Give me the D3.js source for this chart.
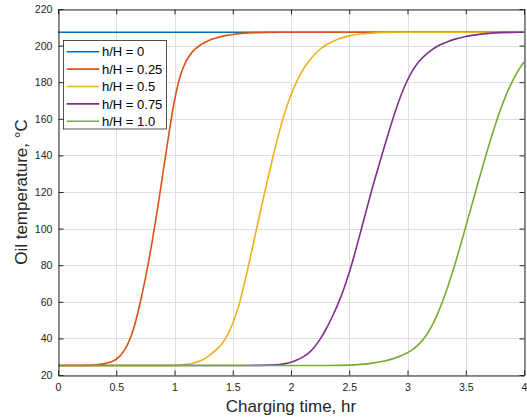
<!DOCTYPE html>
<html>
<head>
<meta charset="utf-8">
<script src="https://cdn.jsdelivr.net/npm/d3@7"></script>
<style>
  html, body { margin: 0; padding: 0; background: #fff; }
  svg { display: block; font-family: "Liberation Sans", Arial, Helvetica, sans-serif; }
</style>
</head>
<body>
<svg id="chart" width="527" height="418"></svg>
<script>
// ---- data ----
const seriesNames = ["h/H = 0", "h/H = 0.25", "h/H = 0.5", "h/H = 0.75", "h/H = 1.0"];
const seriesColors = ["#0072BD", "#D95319", "#EDB120", "#7E2F8E", "#77AC30"];

const timeH0 = [0, 4];
const tempH0 = [207.3, 207.3];

const timeH025 = [0, 0.2, 0.3, 0.35, 0.4, 0.45, 0.5, 0.55, 0.6, 0.65, 0.7, 0.75, 0.8, 0.85, 0.9, 0.95, 1.0, 1.05, 1.1, 1.15, 1.2, 1.25, 1.3, 1.35, 1.4, 1.45, 1.5, 1.6, 1.7, 1.8, 2.0, 4];
const tempH025 = [25.2, 25.2, 25.4, 25.7, 26.2, 27.1, 28.6, 31.8, 37, 45.5, 58, 72.8, 89.8, 109, 130, 151, 170, 183.5, 191.5, 196.3, 199.3, 201.4, 202.9, 204, 204.9, 205.6, 206.1, 206.8, 207.1, 207.25, 207.3, 207.3];

const timeH05 = [0, 0.9, 1.0, 1.05, 1.1, 1.15, 1.2, 1.25, 1.3, 1.35, 1.4, 1.45, 1.5, 1.55, 1.6, 1.65, 1.7, 1.75, 1.8, 1.85, 1.9, 1.95, 2.0, 2.05, 2.1, 2.15, 2.2, 2.25, 2.3, 2.35, 2.4, 2.45, 2.5, 2.6, 2.7, 2.8, 3.0, 4];
const tempH05 = [25.2, 25.2, 25.3, 25.5, 25.8, 26.3, 27.2, 28.6, 30.8, 33.3, 36.5, 41.2, 48.3, 57.5, 70, 84, 98.5, 113, 127, 140.5, 153, 164, 173, 180.5, 186.5, 191.2, 195, 198, 200.3, 202, 203.4, 204.5, 205.3, 206.3, 206.9, 207.2, 207.3, 207.3];

const timeH075 = [0, 1.6, 1.8, 1.9, 1.95, 2.0, 2.05, 2.1, 2.15, 2.2, 2.25, 2.3, 2.35, 2.4, 2.45, 2.5, 2.55, 2.6, 2.65, 2.7, 2.75, 2.8, 2.85, 2.9, 2.95, 3.0, 3.05, 3.1, 3.15, 3.2, 3.25, 3.3, 3.35, 3.4, 3.5, 3.6, 3.7, 3.8, 3.9, 4];
const tempH075 = [25.2, 25.2, 25.4, 25.7, 26.2, 27.0, 28.2, 29.8, 32, 35.2, 39.6, 45, 51.3, 58.3, 66.5, 76, 87, 98.8, 110.8, 122.6, 133.6, 144.4, 155, 165, 173.8, 181.2, 187, 191.4, 194.7, 197.3, 199.4, 201, 202.3, 203.4, 205, 206, 206.7, 207.1, 207.25, 207.3];

const timeH1 = [0, 2.3, 2.5, 2.6, 2.7, 2.8, 2.85, 2.9, 2.95, 3.0, 3.05, 3.1, 3.15, 3.2, 3.25, 3.3, 3.35, 3.4, 3.45, 3.5, 3.55, 3.6, 3.65, 3.7, 3.75, 3.8, 3.85, 3.9, 3.95, 4.0];
const tempH1 = [25.2, 25.2, 25.4, 25.8, 26.5, 27.6, 28.4, 29.4, 30.7, 32.2, 34.2, 37, 40.8, 45.8, 52.2, 60, 69, 79, 89.8, 101, 112.4, 123.8, 135, 145.8, 156, 165.3, 173.5, 180.5, 186.3, 191];

const xTicks = [0, 0.5, 1, 1.5, 2, 2.5, 3, 3.5, 4];
const xTickLabels = ["0", "0.5", "1", "1.5", "2", "2.5", "3", "3.5", "4"];
const yTicks = [20, 40, 60, 80, 100, 120, 140, 160, 180, 200, 220];
const xLabel = "Charging time, hr";
const yLabel = "Oil temperature, \u00B0C";

// ---- build ----
const seriesTimes = [timeH0, timeH025, timeH05, timeH075, timeH1];
const seriesTemps = [tempH0, tempH025, tempH05, tempH075, tempH1];
const series = seriesNames.map((name, i) => ({
  name, color: seriesColors[i],
  points: seriesTimes[i].map((t, j) => ({ t, v: seriesTemps[i][j] }))
}));

const svg = d3.select("#chart");
const L = 58, R = 524, T = 9, B = 375;
const x = d3.scaleLinear().domain([0, 4]).range([L, R]);
const y = d3.scaleLinear().domain([20, 220]).range([B, T]);
const axisColor = "#262626";

// grid
const grid = svg.append("g");
grid.selectAll("line.gx").data(xTicks).enter().append("line")
  .attr("x1", d => Math.round(x(d)) + 0.5).attr("x2", d => Math.round(x(d)) + 0.5)
  .attr("y1", T).attr("y2", B)
  .attr("stroke", "#dfdfdf").attr("stroke-width", 1);
grid.selectAll("line.gy").data(yTicks).enter().append("line")
  .attr("y1", d => Math.round(y(d)) + 0.5).attr("y2", d => Math.round(y(d)) + 0.5)
  .attr("x1", L).attr("x2", R)
  .attr("stroke", "#dfdfdf").attr("stroke-width", 1);

// lines
const line = d3.line().x(d => x(d.t)).y(d => y(d.v)).curve(d3.curveMonotoneX);
const clipId = "plotclip";
svg.append("clipPath").attr("id", clipId).append("rect")
  .attr("x", L).attr("y", T).attr("width", R - L).attr("height", B - T);
svg.append("g").attr("clip-path", `url(#${clipId})`)
  .selectAll("path").data(series).enter().append("path")
  .attr("d", d => line(d.points))
  .attr("fill", "none")
  .attr("stroke", d => d.color)
  .attr("stroke-width", 1.6)
  .attr("stroke-linejoin", "round");

// axes (box with inward ticks)
const tickLen = 5;
const xAxisB = d3.axisBottom(x).tickValues(xTicks).tickFormat((d, i) => xTickLabels[i]).tickSizeInner(-tickLen).tickSizeOuter(0).tickPadding(8);
const xAxisT = d3.axisTop(x).tickValues(xTicks).tickFormat("").tickSizeInner(-tickLen).tickSizeOuter(0);
const yAxisL = d3.axisLeft(y).tickValues(yTicks).tickSizeInner(-tickLen).tickSizeOuter(0).tickPadding(6);
const yAxisR = d3.axisRight(y).tickValues(yTicks).tickFormat("").tickSizeInner(-tickLen).tickSizeOuter(0);

function styleAxis(g) {
  g.selectAll("path.domain").attr("stroke", axisColor).attr("stroke-width", 1);
  g.selectAll(".tick line").attr("stroke", axisColor).attr("stroke-width", 1);
  g.selectAll(".tick text").attr("fill", axisColor)
    .style("font-family", "'Liberation Sans', Arial, sans-serif").style("font-size", "10.6px");
}
svg.append("g").attr("transform", `translate(0,${B + 0.5})`).call(xAxisB).call(styleAxis);
svg.append("g").attr("transform", `translate(0,${T + 0.5})`).call(xAxisT).call(styleAxis);
svg.append("g").attr("transform", `translate(${L + 0.5},0)`).call(yAxisL).call(styleAxis);
svg.append("g").attr("transform", `translate(${R + 0.5},0)`).call(yAxisR).call(styleAxis);

// axis labels
svg.append("text").attr("x", (L + R) / 2).attr("y", 411.5)
  .attr("text-anchor", "middle").attr("fill", axisColor)
  .style("font-size", "17px").text(xLabel);
svg.append("text").attr("transform", `translate(27,${(T + B) / 2}) rotate(-90)`)
  .attr("text-anchor", "middle").attr("fill", axisColor)
  .style("font-size", "17px").text(yLabel);

// legend
const lg = svg.append("g");
lg.append("rect").attr("x", 63.5).attr("y", 40.5).attr("width", 103).attr("height", 88.5)
  .attr("fill", "#fff").attr("stroke", axisColor).attr("stroke-width", 0.8);
series.forEach((s, i) => {
  const yy = 51.7 + i * 17.4;
  lg.append("line").attr("x1", 66.7).attr("x2", 99.3).attr("y1", yy).attr("y2", yy)
    .attr("stroke", s.color).attr("stroke-width", 1.6);
  lg.append("text").attr("x", 102).attr("y", yy).attr("dy", "0.36em")
    .attr("fill", "#000").style("font-size", "13px").text(s.name);
});
</script>
</body>
</html>
